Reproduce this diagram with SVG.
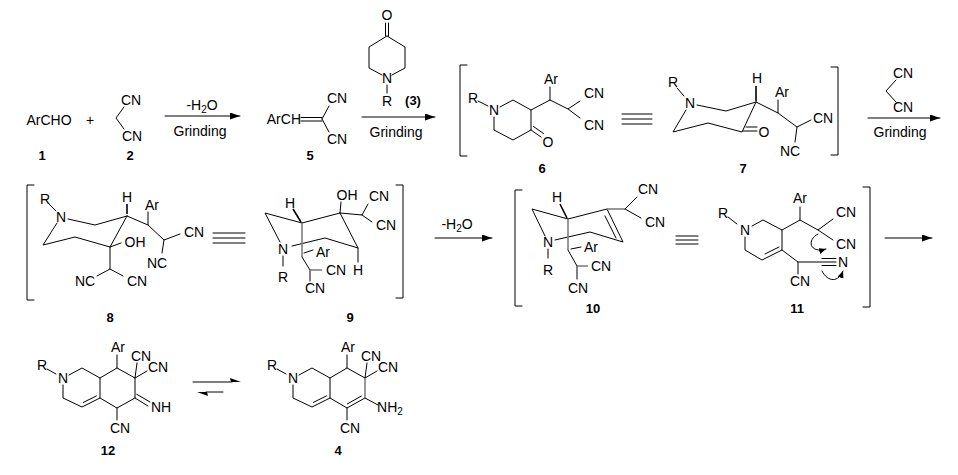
<svg xmlns="http://www.w3.org/2000/svg" width="958" height="475" viewBox="0 0 958 475">
<defs>
<style>
.b{stroke:#000;stroke-width:1;fill:none;stroke-linecap:round}
.g{stroke:#777;stroke-width:1.5;fill:none}
.k{stroke:#000;stroke-width:1.6;fill:none}
text{font-family:"Liberation Sans",Arial,sans-serif;font-size:14px;text-anchor:middle;dominant-baseline:central;fill:#000}
.l{font-weight:bold;font-size:13px}
.s{font-size:10px}
</style>
<marker id="ah" markerWidth="10" markerHeight="7" refX="10" refY="3.5" orient="auto" markerUnits="userSpaceOnUse"><path d="M0,0 L10,3.5 L0,7 z" fill="#000"/></marker>
<marker id="ah2" markerWidth="7" markerHeight="6" refX="7" refY="3" orient="auto" markerUnits="userSpaceOnUse"><path d="M0,0 L7,3 L0,6 z" fill="#000"/></marker>
</defs>
<rect width="958" height="475" fill="#fff"/>

<g id="c1"><text x="49" y="120">ArCHO</text><text x="42" y="155" class="l">1</text></g>
<text x="90" y="120">+</text>
<g id="c2">
<text x="131" y="100">CN</text><text x="132" y="136">CN</text>
<path class="b" d="M124 107 L116 118 L124 129"/>
<text x="130" y="155" class="l">2</text>
</g>

<g id="c5">
<text x="301" y="119" style="text-anchor:end">ArCH</text>
<path class="b" d="M301 117.5 H322 M301 121 H322 M322 119 L329 106 M322 119 L329 132"/>
<text x="337" y="98">CN</text><text x="337" y="139">CN</text>
<text x="310" y="155" class="l">5</text>
</g>

<g id="c3">
<text x="387" y="15">O</text>
<path class="b" d="M385.5 23 V36 M388.5 23 V36 M387 36 L405 47 L405 68 L392 75 M387 36 L369 47 L369 68 L382 75 M387 85 V93"/>
<text x="387" y="78">N</text><text x="387" y="101">R</text>
<text x="413" y="100" class="l">(3)</text>
</g>

<g id="c6">
<path class="b" d="M467 65 H460 V156 H467"/>
<text x="473" y="98">R</text><text x="494" y="110">N</text>
<path class="b" d="M478 101 L488 106 M500 107 L513 100 L531 110 L531 130 L513 140 L494 130 L494 117 M531 130 L541 137 M533.5 126.5 L543.5 133.5 M531 110 L550 100 L550 87 M550 100 L568 109 L580 101 M568 109 L580 118"/>
<text x="548" y="142">O</text>
<text x="551" y="79">Ar</text>
<text x="594" y="93">CN</text><text x="594" y="125">CN</text>
<text x="542" y="168" class="l">6</text>
</g>

<path class="b" d="M622 114 H652 M622 119 H652 M622 124 H652"/>

<g id="c7">
<text x="673" y="82">R</text><text x="690" y="103">N</text>
<path class="b" d="M677 88 L684 96 M697 105 L726 111 L756 102 M686 110 L673 132 L708 123 L742 132 L756 102 M743 131 H757 M746 127 H757 M756 102 L778 113 L778 100 M778 113 L797 127 L811 120 M797 127 L795 142"/>
<path class="k" d="M756 101 V86"/>
<text x="757" y="78">H</text>
<text x="764" y="132">O</text>
<text x="782" y="92">Ar</text>
<text x="823" y="118">CN</text>
<text x="790" y="151">NC</text>
<path class="b" d="M831 67 H838 V155 H831"/>
<text x="743" y="168" class="l">7</text>
</g>

<g id="c8">
<path class="b" d="M34 185 H27 V300 H34"/>
<text x="45" y="199">R</text><text x="61" y="217">N</text>
<path class="b" d="M49 204 L56 211 M68 219 L95 225 L127 216 M57 223 L43 245 L75 237 L110 247 L127 216 M110 247 L121 243 M110 247 V269 L97 276 M110 269 L123 276 M127 216 L148 225 L148 212 M148 225 L164 240 L180 234 M164 240 L162 253"/>
<path class="k" d="M127 214 V204"/>
<text x="127" y="197">H</text>
<text x="135" y="242">OH</text>
<text x="85" y="281">NC</text><text x="137" y="281">CN</text>
<text x="152" y="205">Ar</text>
<text x="194" y="232">CN</text>
<text x="157" y="263">NC</text>
<text x="110" y="317" class="l">8</text>
</g>

<path class="b" d="M213 233 H245 M213 238 H245 M213 243 H245"/>

<g id="c9">
<text x="290" y="203">H</text>
<path class="k" d="M293 209 L301 222"/>
<path class="b" d="M302 223 L265 213 L280 242 M302 223 L340 213 L341 202 M340 213 L362 215 L368 204 M362 215 L372 222 M340 213 L358 248 L358 262 M358 248 L325 238 L292 246 M304 253 L313 250 M283 256 V266 M302 257 L310 270 L310 281"/>
<path class="g" d="M302 223 V257 M310 270 H322"/>
<text x="283" y="249">N</text><text x="283" y="277">R</text>
<text x="347" y="195">OH</text>
<text x="379" y="196">CN</text><text x="386" y="225">CN</text>
<text x="358" y="270">H</text>
<text x="323" y="252">Ar</text>
<text x="336" y="270">CN</text>
<text x="315" y="288">CN</text>
<path class="b" d="M396 185 H403 V298 H396"/>
<text x="350" y="317" class="l">9</text>
</g>

<g id="c10">
<path class="b" d="M522 190 H515 V306 H522"/>
<text x="557" y="197">H</text>
<path class="k" d="M560 204 L567 218"/>
<path class="b" d="M568 219 L532 209 L545 236 M548 249 V258 M568 219 L607 209 L623 242 L590 232 L555 240 M605 216 L616 238 M571 249 L581 247 M568 250 L577 266 L577 279 M625 209 L637 197 M625 209 L641 218"/>
<path class="g" d="M607 209 H625 M568 219 V250 M577 266 H588"/>
<text x="548" y="242">N</text><text x="548" y="270">R</text>
<text x="648" y="189">CN</text><text x="655" y="222">CN</text>
<text x="591" y="247">Ar</text>
<text x="601" y="266">CN</text>
<text x="578" y="288">CN</text>
<text x="593" y="308" class="l">10</text>
</g>

<path class="b" d="M676 236 H698 M676 240 H698 M676 244 H698"/>

<g id="c11">
<text x="723" y="213">R</text><text x="745" y="230">N</text>
<path class="b" d="M728 217 L737 224 M752 226 L763 220 L782 230 L782 250 L762 260 L745 250 L745 237 M779 247 L765 254 M782 230 L800 220 L800 207 M800 220 L818 230 L833 219 M818 230 L833 240 M782 250 L798 262 L798 274 M798 262 L836 262 M822 258.5 H836 M822 265.5 H836"/>
<text x="800" y="198">Ar</text>
<text x="846" y="212">CN</text><text x="846" y="244">CN</text>
<text x="800" y="281">CN</text>
<text x="843" y="262">N</text>
<path class="b" d="M818 234 C806 240 810 254 826 249" marker-end="url(#ah2)"/>
<path class="b" d="M822 271 C828 283 839 282 843 271" marker-end="url(#ah2)"/>
<path class="b" d="M863 187 H870 V307 H863"/>
<text x="797" y="308" class="l">11</text>
</g>

<g id="c12">
<text x="42" y="365">R</text><text x="63" y="378">N</text>
<path class="b" d="M47 369 L56 374 M69 375 L82 368 L100 378 L100 398 L82 407 L63 398 L63 385 M96.4 395.9 L83.4 402.4 M100 378 L117 368 L117 355 M117 368 L135 378 L137 363 M135 378 L147 371 M135 378 L135 398 L148 406 M136.8 394.3 L150 402 M135 398 L117 408 L100 398 M117 408 V420"/>
<text x="118" y="347">Ar</text>
<text x="141" y="356">CN</text><text x="158" y="367">CN</text>
<text x="161" y="407">NH</text>
<text x="120" y="428">CN</text>
<text x="108" y="450" class="l">12</text>
</g>

<g id="c4">
<text x="272" y="365">R</text><text x="293" y="378">N</text>
<path class="b" d="M277 369 L286 374 M299 375 L312 368 L330 378 L330 398 L312 407 L293 398 L293 385 M326.4 395.9 L313.4 402.4 M330 378 L347 368 L347 355 M347 368 L365 378 L367 363 M365 378 L377 371 M365 398 L378 405 M365 398 L347 408 L330 398 M347.3 403.9 L361.3 396.1 M347 408 V420"/>
<path class="g" d="M365 378 V398"/>
<text x="348" y="347">Ar</text>
<text x="371" y="356">CN</text><text x="388" y="367">CN</text>
<text x="390" y="407">NH<tspan class="s" dy="4">2</tspan></text>
<text x="350" y="428">CN</text>
<text x="338" y="450" class="l">4</text>
</g>

<g id="connectors">
<path class="b" d="M165 116 H240" marker-end="url(#ah)"/>
<text x="202" y="105">-H<tspan class="s" dy="4">2</tspan><tspan dy="-4">O</tspan></text>
<text x="200" y="131">Grinding</text>
<path class="b" d="M362 117 H435" marker-end="url(#ah)"/>
<text x="396" y="132">Grinding</text>
<g id="mn">
<text x="903" y="73">CN</text><text x="903" y="107">CN</text>
<path class="b" d="M896 80 L886 91 L896 102"/>
</g>
<path class="b" d="M868 118 H940" marker-end="url(#ah)"/>
<text x="900" y="132">Grinding</text>
<path class="b" d="M435 238 H492" marker-end="url(#ah)"/>
<text x="457" y="224">-H<tspan class="s" dy="4">2</tspan><tspan dy="-4">O</tspan></text>
<path class="b" d="M885 238 H932" marker-end="url(#ah)"/>
<path class="b" d="M193 382 H232"/>
<path d="M241 382 L230 378 L231 382 Z" fill="#000"/>
<path class="b" d="M206 392 H223"/>
<path d="M197 392 L208 396 L207 392 Z" fill="#000"/>
</g>
</svg>
